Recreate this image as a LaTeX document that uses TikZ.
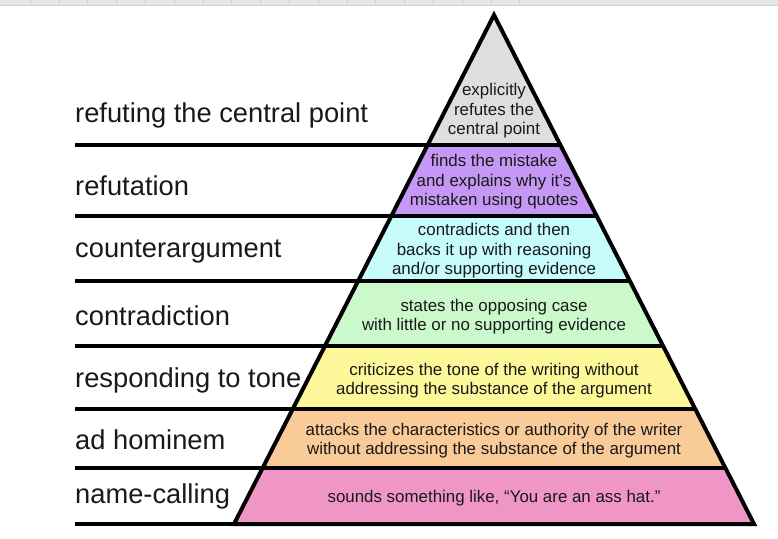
\documentclass[tikz,border=0pt]{standalone}
\usepackage{fontspec}
\setmainfont{Liberation Sans}
\usetikzlibrary{positioning,calc}

\definecolor{tiergrey}{HTML}{DEDEDE}
\definecolor{tierpurple}{HTML}{C698F5}
\definecolor{tiercyan}{HTML}{C6FCFB}
\definecolor{tiergreen}{HTML}{CBF9CB}
\definecolor{tieryellow}{HTML}{FDF99A}
\definecolor{tierorange}{HTML}{F8CB98}
\definecolor{tierpink}{HTML}{F096C6}
\definecolor{stripgrey}{HTML}{E6E6EA}

\begin{document}
\begin{tikzpicture}[
    x=1pt, y=-1pt,
    every node/.style={font=\fontsize{16.9}{19.4}\selectfont, text=black!90, inner sep=0pt},
    level/.style={anchor=west, font=\fontsize{27.3}{30}\selectfont},
    claim/.style={align=center},
    rule/.style={line width=4pt},
    strip/.style={fill=stripgrey},
    stripline/.style={draw=black!18, line width=0.6pt}
]
\useasboundingbox (0,0) rectangle (778,538);

% Header strip
\fill[strip] (0,0) rectangle (778,5);
\draw[stripline] (0,5) -- (778,5);
\foreach \x in {30,58.8,...,520}
    \draw[stripline] (\x,0) -- (\x,5);

% Pyramid corners and tier edges
\coordinate (apex) at (494,15);
\coordinate (bl) at (234,524);
\coordinate (br) at (754,524);
\coordinate (margin) at (75,0);
\foreach \t [count=\i] in {0.2554,0.3949,0.5226,0.6503,0.7741,0.8900} {
    \coordinate (l\i) at ($(apex)!\t!(bl)$);
    \coordinate (r\i) at ($(apex)!\t!(br)$);
}

% Tiers
\fill[tiergrey] (apex) -- (r1) -- (l1) -- cycle;
\fill[tierpurple] (l1) -- (r1) -- (r2) -- (l2) -- cycle;
\fill[tiercyan] (l2) -- (r2) -- (r3) -- (l3) -- cycle;
\fill[tiergreen] (l3) -- (r3) -- (r4) -- (l4) -- cycle;
\fill[tieryellow] (l4) -- (r4) -- (r5) -- (l5) -- cycle;
\fill[tierorange] (l5) -- (r5) -- (r6) -- (l6) -- cycle;
\fill[tierpink] (l6) -- (r6) -- (br) -- (bl) -- cycle;

% Rules
\foreach \i in {1,...,6}
    \draw[rule] (l\i -| margin) -- (r\i);
\draw[rule] (bl -| margin) -- (br);
\draw[rule, line join=miter] (apex) -- (br) -- (bl) -- cycle;

% Tier texts
\node[claim] (refutes) at (494,111) {explicitly\\refutes the\\central point};
\node[claim] (finds) at (494,182) {finds the mistake\\and explains why it's\\mistaken using quotes};
\node[claim] (backs) at (494,251) {contradicts and then\\backs it up with reasoning\\and/or supporting evidence};
\node[claim] (states) at (494,316.5) {states the opposing case\\with little or no supporting evidence};
\node[claim] (criticizes) at (494,380.5) {criticizes the tone of the writing without\\addressing the substance of the argument};
\node[claim] (attacks) at (494,440.5) {attacks the characteristics or authority of the writer\\without addressing the substance of the argument};
\node[claim] (sounds) at (494,498) {sounds something like, “You are an ass hat.”};

% Level names
\node[level] (central) at (75,115) {refuting the central point};
\node[level] (refutation) at (75,186) {refutation};
\node[level] (counter) at (75,252) {counterargument};
\node[level] (contradiction) at (75,316) {contradiction};
\node[level] (tone) at (75,380) {responding to tone};
\node[level] (hominem) at (75,440) {ad hominem};
\node[level] (naming) at (75,496) {name-calling};

\end{tikzpicture}
\end{document}
